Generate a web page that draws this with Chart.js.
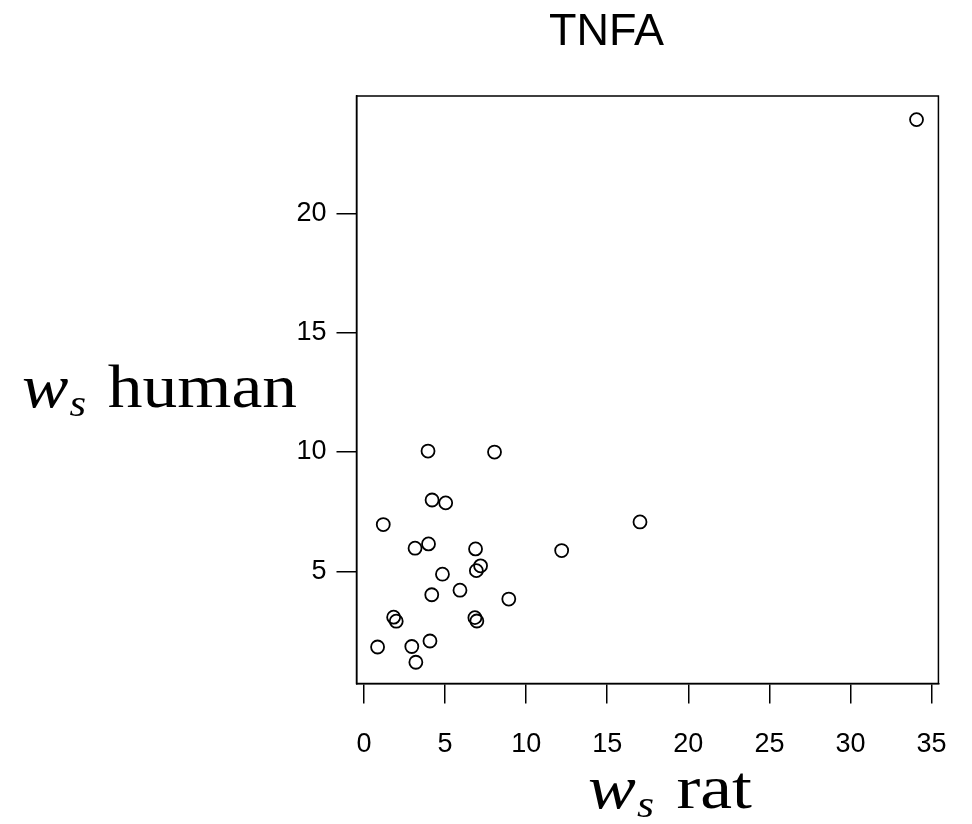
<!DOCTYPE html>
<html lang="en">
	<head>
		<meta charset="UTF-8" />
		<title>TNFA</title>
		<script src="https://cdn.jsdelivr.net/npm/chart.js"></script>
		<style>
			html,
			body {
				margin: 0;
				padding: 0;
				background: #fff;
			}
		</style>
	</head>
	<body>
		<canvas id="myChart" width="972" height="824"></canvas>

		<script>
			// w_s values (rat on x, human on y)
			var ratWs = [34.07, 3.95, 8.05, 4.2, 5.04, 1.19, 17.02, 3.98, 3.15, 6.88, 12.19, 7.19, 6.93, 4.84, 5.92, 4.18, 8.93, 1.83, 1.99, 6.84, 6.96, 4.07, 0.84, 2.95, 3.2];
			var humanWs = [23.93, 10.04, 10.0, 7.99, 7.87, 6.96, 7.07, 6.15, 5.97, 5.94, 5.87, 5.23, 5.03, 4.88, 4.21, 4.02, 3.84, 3.08, 2.91, 3.06, 2.92, 2.08, 1.83, 1.85, 1.19];
			var xTickValues = [0, 5, 10, 15, 20, 25, 30, 35];
			var yTickValues = [5, 10, 15, 20];
			var chartTitle = "TNFA";
			var xLabelRest = "rat";
			var yLabelRest = "human";

			var points = ratWs.map(function (x, i) {
				return { x: x, y: humanWs[i] };
			});

			var serif = '"Liberation Serif", "DejaVu Serif", serif';
			var sans = '"Liberation Sans", Arial, sans-serif';

			// w_s <rest> : italic w, italic subscript s, upright word
			function drawMathLabel(ctx, left, baseline, width, rest, size) {
				var mainItalic = "italic " + size + "px " + serif;
				var sub = "italic " + Math.round(size * 0.62) + "px " + serif;
				var upright = size + "px " + serif;
				ctx.font = mainItalic;
				var ww = ctx.measureText("w").width;
				ctx.font = sub;
				var sw = ctx.measureText("s").width;
				ctx.font = upright;
				var gap = size * 0.33;
				var rw = ctx.measureText(rest).width;
				var k = width / (ww + sw + gap + rw);
				ctx.save();
				ctx.translate(left, baseline);
				ctx.scale(k, 1);
				ctx.fillStyle = "#000";
				ctx.textAlign = "left";
				ctx.textBaseline = "alphabetic";
				ctx.font = mainItalic;
				ctx.fillText("w", 0, 0);
				ctx.font = sub;
				ctx.fillText("s", ww + 1, size * 0.14);
				ctx.font = upright;
				ctx.fillText(rest, ww + sw + gap, 0);
				ctx.restore();
			}

			var boxAndLabels = {
				id: "boxAndLabels",
				afterDraw: function (chart) {
					var ctx = chart.ctx;
					var a = chart.chartArea;
					ctx.save();
					ctx.strokeStyle = "#000";
					ctx.lineWidth = 1.5;
					ctx.strokeRect(a.left, a.top, a.right - a.left, a.bottom - a.top);
					ctx.restore();
					drawMathLabel(ctx, 22, 407, 275, yLabelRest, 62);
					drawMathLabel(ctx, 588, 808, 164, xLabelRest, 62);
				},
			};

			var ctx = document.getElementById("myChart").getContext("2d");
			var myChart = new Chart(ctx, {
				type: "scatter",
				plugins: [boxAndLabels],
				data: {
					datasets: [
						{
							label: "TNFA",
							data: points,
							pointStyle: "circle",
							pointRadius: 6.5,
							pointHoverRadius: 6.5,
							borderWidth: 1.8,
							borderColor: "#000",
							backgroundColor: "rgba(0,0,0,0)",
						},
					],
				},
				options: {
					responsive: false,
					animation: false,
					layout: {
						padding: { left: 273, right: 32, top: 0, bottom: 0 },
					},
					scales: {
						x: {
							type: "linear",
							min: -0.46,
							max: 35.42,
							afterFit: function (scale) {
								scale.height = 140.5;
							},
							afterBuildTicks: function (scale) {
								scale.ticks = xTickValues.map(function (v) {
									return { value: v };
								});
							},
							grid: {
								drawOnChartArea: false,
								drawTicks: true,
								tickLength: 20,
								color: "#000",
								lineWidth: 1.5,
							},
							border: { display: true, color: "#000", width: 1.5 },
							ticks: {
								color: "#000",
								padding: 25,
								maxRotation: 0,
								font: { size: 27, family: sans },
							},
						},
						y: {
							type: "linear",
							min: 0.3,
							max: 24.92,
							afterFit: function (scale) {
								scale.width = 83.5;
							},
							afterBuildTicks: function (scale) {
								scale.ticks = yTickValues.map(function (v) {
									return { value: v };
								});
							},
							grid: {
								drawOnChartArea: false,
								drawTicks: true,
								tickLength: 20,
								color: "#000",
								lineWidth: 1.5,
							},
							border: { display: true, color: "#000", width: 1.5 },
							ticks: {
								color: "#000",
								padding: 10,
								font: { size: 27, family: sans },
							},
						},
					},
					plugins: {
						legend: { display: false },
						tooltip: { enabled: false },
						title: {
							display: true,
							text: chartTitle,
							color: "#000",
							font: { size: 45, weight: "normal", family: sans },
							padding: { top: 6, bottom: 36 },
						},
					},
				},
			});
		</script>
	</body>
</html>
